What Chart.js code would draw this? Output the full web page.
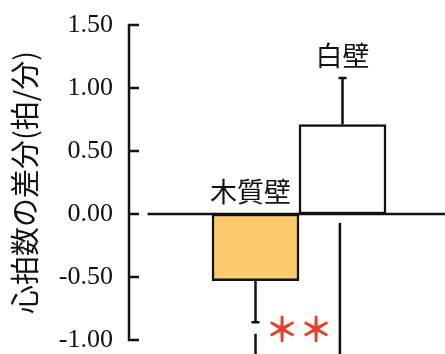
<!DOCTYPE html>
<html>
<head>
<meta charset="utf-8">
<script src="https://cdn.jsdelivr.net/npm/chart.js@4/dist/chart.umd.min.js"></script>
<style>
  html, body { margin: 0; padding: 0; background: #fff; overflow: hidden; }
  canvas { display: block; }
</style>
</head>
<body>
<canvas id="c" width="445" height="354"></canvas>
<script>
// Heart-rate difference by wall finish
const categories = ['木質壁', '白壁'];
const positions = [1, 2];
const meanDiff = [-0.53, 0.71];
const errorSize = [0.33, 0.37];
const barColors = ['#FDCB6B', '#FFFFFF'];
const yTicks = [-1.0, -0.5, 0.0, 0.5, 1.0, 1.5];
// significance bracket legs: [x, from, to]
const bracketLegs = [[1, -0.95, -1.3], [1.97, -0.07, -1.3]];
const significance = '＊＊';
const significanceAt = [1.5, -0.915];

const JP = '"Noto Sans CJK JP", "Noto Sans", sans-serif';
const INK = '#111';

const overlay = {
  id: 'overlay',
  afterDatasetsDraw(chart) {
    const { ctx, chartArea, scales: { x, y } } = chart;
    ctx.save();
    ctx.strokeStyle = INK;
    ctx.lineWidth = 2.5;
    ctx.lineCap = 'butt';

    // zero line
    const y0 = y.getPixelForValue(0);
    ctx.beginPath();
    ctx.moveTo(x.getPixelForValue(-0.24), y0);
    ctx.lineTo(chartArea.right, y0);
    ctx.stroke();

    // error bars, pointing away from zero
    meanDiff.forEach((v, i) => {
      const cx = x.getPixelForValue(positions[i]);
      const end = v + Math.sign(v) * errorSize[i];
      const p1 = y.getPixelForValue(v);
      const p2 = y.getPixelForValue(end);
      ctx.beginPath();
      ctx.moveTo(cx, p1);
      ctx.lineTo(cx, p2);
      ctx.moveTo(cx - 4, p2);
      ctx.lineTo(cx + 4, p2);
      ctx.stroke();
    });

    // bracket legs
    bracketLegs.forEach(([bx, a, b]) => {
      const px = x.getPixelForValue(bx);
      ctx.beginPath();
      ctx.moveTo(px, y.getPixelForValue(a));
      ctx.lineTo(px, y.getPixelForValue(b));
      ctx.stroke();
    });

    // category labels above each bar
    ctx.fillStyle = INK;
    ctx.font = '27px ' + JP;
    ctx.textAlign = 'center';
    ctx.textBaseline = 'middle';
    meanDiff.forEach((v, i) => {
      const top = Math.max(0, v > 0 ? v + errorSize[i] : 0);
      ctx.fillText(categories[i], x.getPixelForValue(positions[i]) - (v < 0 ? 5 : 0), y.getPixelForValue(top) - 22);
    });

    // significance marks
    ctx.fillStyle = '#E4412A';
    ctx.font = 'bold 34px ' + JP;
    ctx.fillText(significance, x.getPixelForValue(significanceAt[0]), y.getPixelForValue(significanceAt[1]));

    // y axis with inward ticks
    const ax = chartArea.left;
    ctx.beginPath();
    ctx.moveTo(ax, y.getPixelForValue(yTicks[yTicks.length - 1]));
    ctx.lineTo(ax, y.getPixelForValue(yTicks[0]));
    yTicks.forEach(t => {
      const py = y.getPixelForValue(t);
      ctx.moveTo(ax - 1.25, py);
      ctx.lineTo(ax + 10, py);
    });
    ctx.stroke();
    ctx.restore();
  }
};

new Chart(document.getElementById('c'), {
  type: 'bar',
  data: {
    datasets: [{
      data: positions.map((p, i) => ({ x: p, y: meanDiff[i] })),
      backgroundColor: barColors,
      borderColor: INK,
      borderWidth: 2.5,
      borderSkipped: false,
      barThickness: 87
    }]
  },
  options: {
    responsive: false,
    animation: false,
    devicePixelRatio: 1,
    layout: { padding: { top: 25, bottom: 14, left: 0, right: 0 } },
    plugins: { legend: { display: false }, tooltip: { enabled: false } },
    scales: {
      x: {
        type: 'linear',
        display: false,
        offset: false,
        min: -0.454,
        max: 3.178
      },
      y: {
        min: -1.0,
        max: 1.5,
        afterFit(scale) {
          scale.width = 129;
          scale.paddingTop = 0;
          scale.paddingBottom = 0;
        },
        afterBuildTicks(scale) { scale.ticks = yTicks.map(v => ({ value: v })); },
        grid: { display: false, drawTicks: false },
        border: { display: false },
        ticks: {
          padding: 16,
          color: INK,
          font: { family: '"Liberation Serif", "Times New Roman", serif', size: 26, lineHeight: 1 },
          callback: v => Number(v).toFixed(2)
        },
        title: {
          display: true,
          text: '心拍数の差分(拍/分)',
          color: INK,
          padding: { top: 8, bottom: 0 },
          font: { family: JP, size: 29, lineHeight: 1.2 }
        }
      }
    }
  },
  plugins: [overlay]
});
</script>
</body>
</html>
